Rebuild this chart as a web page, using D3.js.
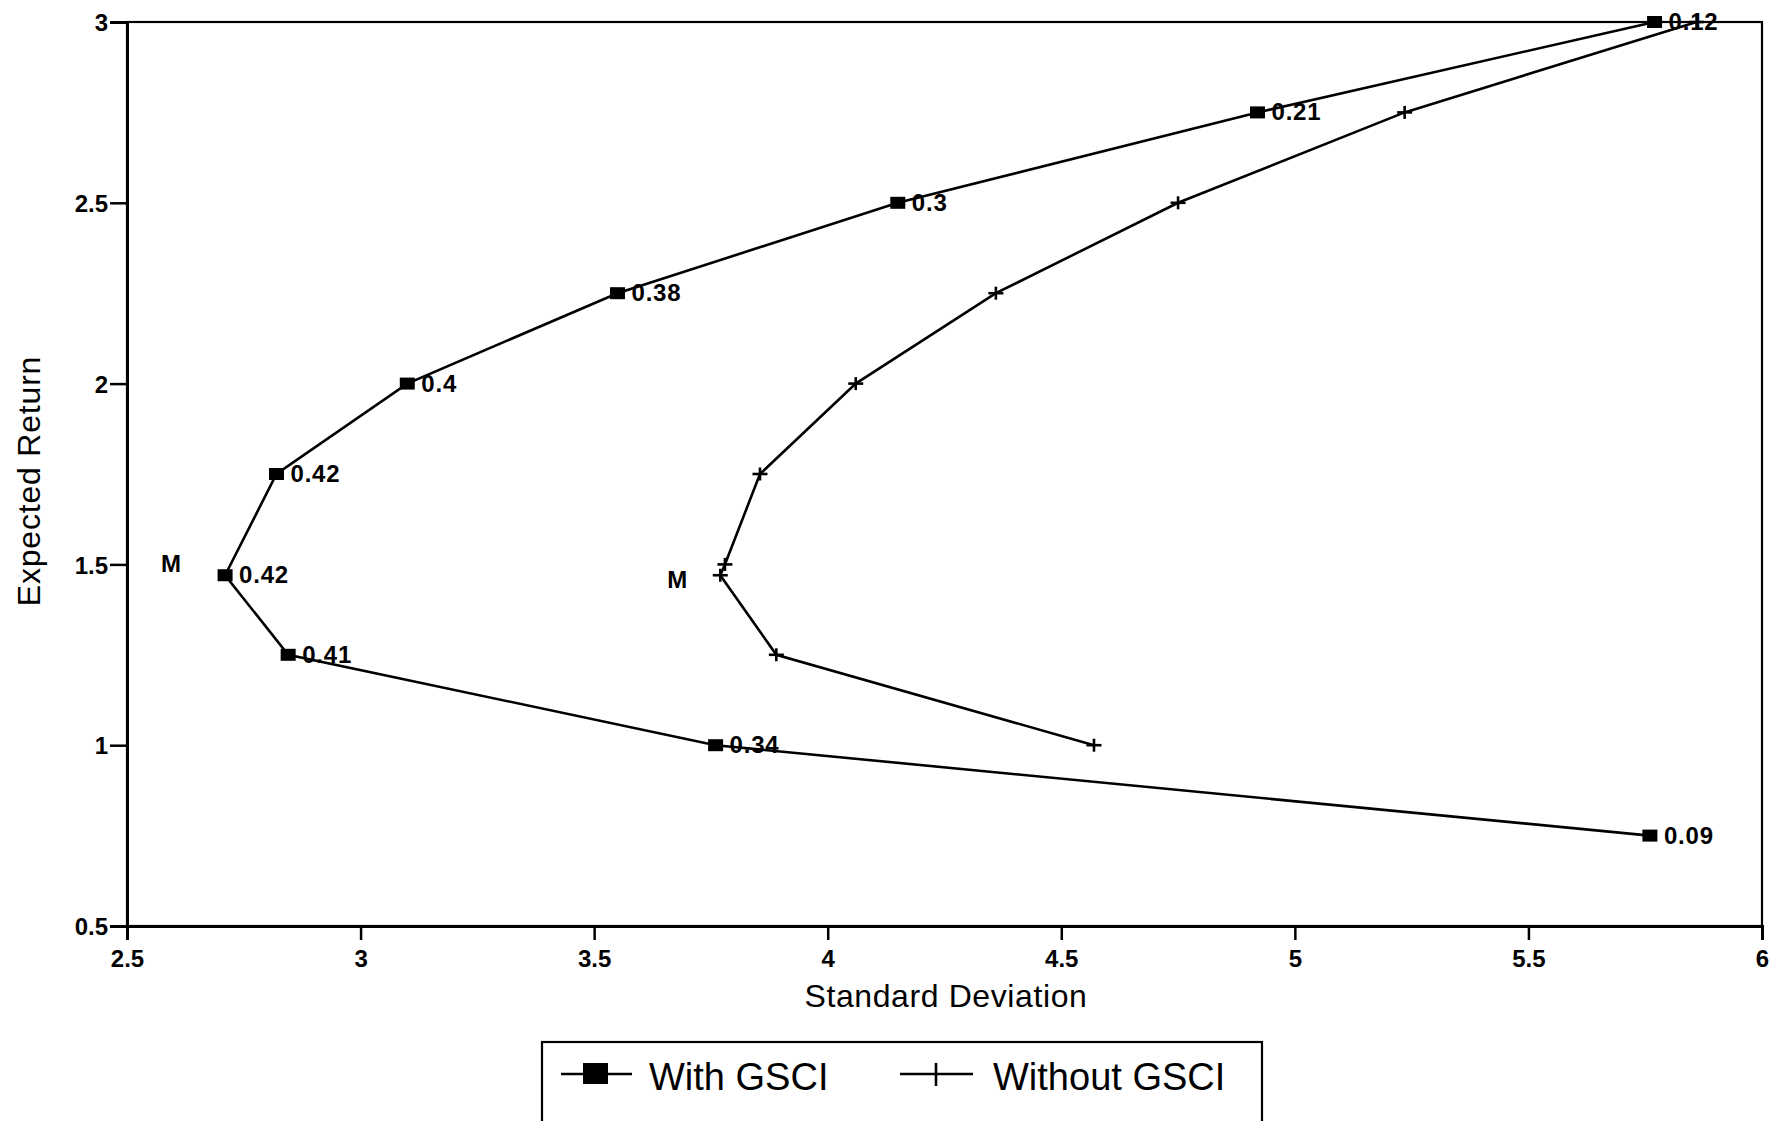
<!DOCTYPE html>
<html>
<head>
<meta charset="utf-8">
<script src="https://cdn.jsdelivr.net/npm/d3@7"></script>
<style>
  body { margin: 0; background: #fff; }
  svg { font-family: "Liberation Sans", Arial, sans-serif; }
  .tick text { font-weight: bold; }
</style>
</head>
<body>
<div id="chart"></div>
<script>
// values
var withSD     = [5.77, 4.92, 4.15, 3.55, 3.10, 2.82, 2.71, 2.845, 3.76, 5.76];
var withRet    = [3.0, 2.75, 2.5, 2.25, 2.0, 1.75, 1.47, 1.25, 1.0, 0.75];
var withLabels = ["0.12", "0.21", "0.3", "0.38", "0.4", "0.42", "0.42", "0.41", "0.34", "0.09"];
var withM = 6;

var withoutSD  = [5.86, 5.235, 4.75, 4.36, 4.06, 3.855, 3.78, 3.77, 3.89, 4.57];
var withoutRet = [3.0, 2.75, 2.5, 2.25, 2.0, 1.75, 1.50, 1.47, 1.25, 1.0];
var withoutM = 7;

var xTicks = [2.5, 3, 3.5, 4, 4.5, 5, 5.5, 6];
var yTicks = [0.5, 1, 1.5, 2, 2.5, 3];
var seriesNames = ["With GSCI", "Without GSCI"];

function init(){
  var w = 1770;
  var h = 1121;

  var svg = d3.select("#chart")
    .append("svg")
    .attr("width", w)
    .attr("height", h);

  var xScale = d3.scaleLinear().domain([2.5, 6]).range([127, 1762]);
  var yScale = d3.scaleLinear().domain([0.5, 3]).range([926, 22]);

  var withData = withSD.map(function(d, i){ return {x: d, y: withRet[i], label: withLabels[i]}; });
  var withoutData = withoutSD.map(function(d, i){ return {x: d, y: withoutRet[i]}; });

  // frame (top and right)
  svg.append("rect")
    .attr("x", xScale(2.5))
    .attr("y", yScale(3))
    .attr("width", xScale(6) - xScale(2.5))
    .attr("height", yScale(0.5) - yScale(3))
    .attr("fill", "none")
    .attr("stroke", "#000")
    .attr("stroke-width", 2.2);

  var xAxis = d3.axisBottom(xScale).tickValues(xTicks).tickSize(14).tickPadding(10)
    .tickFormat(function(d){ return d3.format("")(d); });
  var yAxis = d3.axisLeft(yScale).tickValues(yTicks).tickSize(17).tickPadding(2)
    .tickFormat(function(d){ return d3.format("")(d); });

  var gx = svg.append("g").attr("transform", "translate(0," + yScale(0.5) + ")").call(xAxis);
  var gy = svg.append("g").attr("transform", "translate(" + xScale(2.5) + ",0)").call(yAxis);

  [gx, gy].forEach(function(g){
    g.select(".domain").attr("stroke-width", 3);
    g.selectAll(".tick line").attr("stroke-width", 2.5);
    g.selectAll(".tick text").attr("font-size", 24).attr("fill", "#000");
  });
  gy.selectAll(".tick text").attr("dy", "0.36em");

  // axis titles
  svg.append("text")
    .attr("text-anchor", "middle")
    .attr("x", 946)
    .attr("y", 1007)
    .attr("font-size", 32)
    .attr("letter-spacing", 0.6)
    .text("Standard Deviation");

  svg.append("text")
    .attr("text-anchor", "middle")
    .attr("transform", "translate(40,481) rotate(-90)")
    .attr("font-size", 32)
    .attr("letter-spacing", 0.8)
    .text("Expected Return");

  var line = d3.line()
    .x(function(d){ return xScale(d.x); })
    .y(function(d){ return yScale(d.y); });

  svg.append("path")
    .datum(withData)
    .attr("d", line)
    .attr("fill", "none")
    .attr("stroke", "#000")
    .attr("stroke-width", 2.6);

  svg.append("path")
    .datum(withoutData)
    .attr("d", line)
    .attr("fill", "none")
    .attr("stroke", "#000")
    .attr("stroke-width", 2.6);

  // square markers
  svg.selectAll("rect.sq")
    .data(withData)
    .enter()
    .append("rect")
    .attr("class", "sq")
    .attr("x", function(d){ return xScale(d.x) - 7.5; })
    .attr("y", function(d){ return yScale(d.y) - 6; })
    .attr("width", 15)
    .attr("height", 12)
    .attr("fill", "#000");

  // cross markers
  var cross = svg.selectAll("g.cross")
    .data(withoutData)
    .enter()
    .append("g")
    .attr("class", "cross")
    .attr("transform", function(d){ return "translate(" + xScale(d.x) + "," + yScale(d.y) + ")"; });
  cross.append("line").attr("x1", -7.5).attr("x2", 7.5).attr("stroke", "#000").attr("stroke-width", 2.6);
  cross.append("line").attr("y1", -6.5).attr("y2", 6.5).attr("stroke", "#000").attr("stroke-width", 2.6);

  // point labels
  svg.selectAll("text.pl")
    .data(withData)
    .enter()
    .append("text")
    .attr("class", "pl")
    .attr("x", function(d){ return xScale(d.x) + 14; })
    .attr("y", function(d){ return yScale(d.y) + 8; })
    .attr("font-size", 24)
    .attr("font-weight", "bold")
    .attr("letter-spacing", 0.8)
    .text(function(d){ return d.label; });

  // M annotations
  svg.append("text")
    .attr("x", xScale(withData[withM].x) - 64)
    .attr("y", yScale(withData[withM].y) - 3)
    .attr("font-size", 24)
    .attr("font-weight", "bold")
    .text("M");

  svg.append("text")
    .attr("x", xScale(withoutData[withoutM].x) - 53)
    .attr("y", yScale(withoutData[withoutM].y) + 13)
    .attr("font-size", 24)
    .attr("font-weight", "bold")
    .text("M");

  // legend
  var legend = svg.append("g");
  legend.append("rect")
    .attr("x", 542)
    .attr("y", 1042)
    .attr("width", 720)
    .attr("height", 120)
    .attr("fill", "#fff")
    .attr("stroke", "#000")
    .attr("stroke-width", 2.2);

  legend.append("line").attr("x1", 561).attr("x2", 632).attr("y1", 1074).attr("y2", 1074)
    .attr("stroke", "#000").attr("stroke-width", 2.6);
  legend.append("rect").attr("x", 583).attr("y", 1063).attr("width", 25).attr("height", 21).attr("fill", "#000");
  legend.append("text").attr("x", 649).attr("y", 1090).attr("font-size", 38).text(seriesNames[0]);

  legend.append("line").attr("x1", 900).attr("x2", 973).attr("y1", 1074).attr("y2", 1074)
    .attr("stroke", "#000").attr("stroke-width", 2.6);
  legend.append("line").attr("x1", 936).attr("x2", 936).attr("y1", 1063).attr("y2", 1086)
    .attr("stroke", "#000").attr("stroke-width", 2.6);
  legend.append("text").attr("x", 993).attr("y", 1090).attr("font-size", 38).text(seriesNames[1]);
}

window.onload = init;
</script>
</body>
</html>
